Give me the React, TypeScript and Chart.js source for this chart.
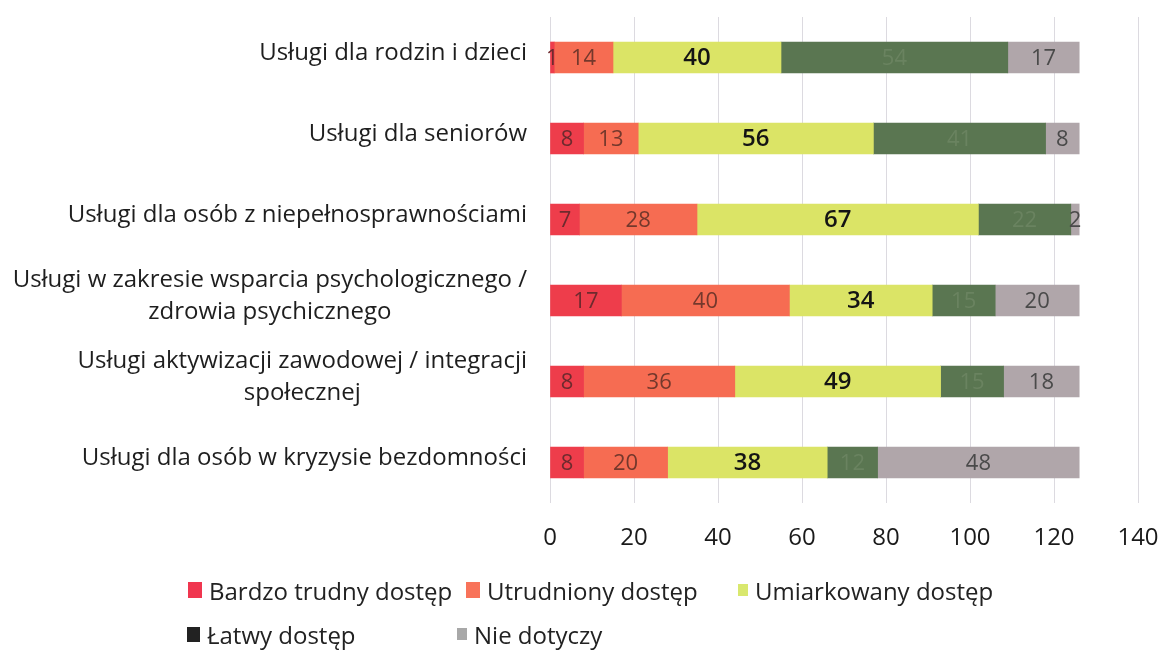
import React, { useEffect, useRef } from "react";
import { Chart, registerables } from "chart.js";

Chart.register(...registerables);

const categories: string[][] = [
  ["Usługi dla rodzin i dzieci"],
  ["Usługi dla seniorów"],
  ["Usługi dla osób z niepełnosprawnościami"],
  ["Usługi w zakresie wsparcia psychologicznego /", "zdrowia psychicznego"],
  ["Usługi aktywizacji zawodowej / integracji", "społecznej"],
  ["Usługi dla osób w kryzysie bezdomności"],
];

const seriesNames = [
  "Bardzo trudny dostęp",
  "Utrudniony dostęp",
  "Umiarkowany dostęp",
  "Łatwy dostęp",
  "Nie dotyczy",
];

const bardzoTrudny = [1, 8, 7, 17, 8, 8];
const utrudniony = [14, 13, 28, 40, 36, 20];
const umiarkowany = [40, 56, 67, 34, 49, 38];
const latwy = [54, 41, 22, 15, 15, 12];
const nieDotyczy = [17, 8, 2, 20, 18, 48];

const xMin = 0;
const xMax = 140;
const xStep = 20;

const barColors = ["#ee3d4b", "#f66c52", "#dbe466", "#5a7651", "#b0a6aa"];
const labelColors = ["#6e2a2e", "#74382c", "#141414", "#6a8360", "#4a4a4a"];
const labelFonts = [
  "400 22px 'Open Sans'",
  "400 22px 'Open Sans'",
  "600 24px 'Open Sans'",
  "400 22px 'Open Sans'",
  "400 22px 'Open Sans'",
];
const legendSwatch = ["#f0364f", "#f8735a", "#d9e86e", "#222222", "#a8a8a8"];

// legend layout (pixels): item left, row top, swatch size
const legendLayout = [
  { x: 188, y: 574, sw: 14, sh: 16 },
  { x: 466, y: 574, sw: 14, sh: 16 },
  { x: 738, y: 574, sw: 10, sh: 12 },
  { x: 187, y: 618, sw: 13, sh: 15 },
  { x: 457, y: 618, sw: 10, sh: 12 },
];

const yLabelsPlugin = {
  id: "yLabels",
  afterDraw(chart: any) {
    const ctx = chart.ctx;
    const ys = chart.scales.y;
    const right = 527;
    ctx.save();
    ctx.font = "500 24px 'Open Sans'";
    ctx.fillStyle = "#1e1e1e";
    ctx.textBaseline = "middle";
    categories.forEach((lines, i) => {
      const y = ys.getPixelForValue(i);
      if (lines.length === 1) {
        ctx.textAlign = "right";
        ctx.fillText(lines[0], right, y - 4);
      } else {
        const w1 = ctx.measureText(lines[0]).width;
        ctx.textAlign = "right";
        ctx.fillText(lines[0], right, y - 20);
        ctx.textAlign = "center";
        ctx.fillText(lines[1], right - w1 / 2, y + 12);
      }
    });
    ctx.restore();
  },
};

const valueLabelsPlugin = {
  id: "valueLabels",
  afterDatasetsDraw(chart: any) {
    const ctx = chart.ctx;
    ctx.save();
    ctx.textAlign = "center";
    ctx.textBaseline = "middle";
    chart.data.datasets.forEach((ds: any, di: number) => {
      const meta = chart.getDatasetMeta(di);
      meta.data.forEach((bar: any, i: number) => {
        const v = ds.data[i];
        const cx = (bar.x + bar.base) / 2;
        ctx.font = labelFonts[di];
        ctx.fillStyle = labelColors[di];
        ctx.fillText(String(v), cx, bar.y + 1);
      });
    });
    ctx.restore();
  },
};

export default function App() {
  const canvasRef = useRef<HTMLCanvasElement | null>(null);

  useEffect(() => {
    document.body.style.margin = "0";
    const canvas = canvasRef.current;
    if (!canvas) return;
    const values = [bardzoTrudny, utrudniony, umiarkowany, latwy, nieDotyczy];
    const chart = new Chart(canvas, {
      type: "bar",
      data: {
        labels: categories.map((c) => c.join(" ")),
        datasets: seriesNames.map((name, i) => ({
          label: name,
          data: values[i],
          backgroundColor: barColors[i],
          borderWidth: 0,
          barThickness: 31,
        })),
      },
      options: {
        indexAxis: "y",
        responsive: false,
        animation: false,
        devicePixelRatio: 1,
        layout: { padding: { top: 17, right: 0, left: 0, bottom: 0 } },
        plugins: {
          legend: { display: false },
          tooltip: { enabled: false },
        },
        scales: {
          x: {
            stacked: true,
            min: xMin,
            max: xMax,
            ticks: {
              stepSize: xStep,
              padding: 21,
              color: "#1a1a1a",
              font: { family: "'Open Sans'", size: 24, weight: "500" },
            },
            grid: { color: "#dcdae0", drawTicks: false, lineWidth: 1 },
            border: { display: false },
            afterFit: (s: any) => {
              s.height = 147;
              s.paddingRight = 22;
              s.paddingLeft = 0;
            },
          },
          y: {
            stacked: true,
            ticks: { display: false },
            grid: { display: false, drawTicks: false },
            border: { display: false },
            afterFit: (s: any) => {
              s.width = 550;
            },
          },
        },
      },
      plugins: [yLabelsPlugin, valueLabelsPlugin],
    } as any);
    return () => chart.destroy();
  }, []);

  return (
    <div style={{ position: "relative", width: 1160, height: 650, background: "#fff" }}>
      <canvas ref={canvasRef} width={1160} height={650} style={{ display: "block" }} />
      {seriesNames.map((name, i) => {
        const L = legendLayout[i];
        return (
          <div
            key={name}
            style={{
              position: "absolute",
              left: L.x,
              top: L.y,
              height: 32,
              display: "flex",
              alignItems: "center",
              fontFamily: "'Open Sans'",
              fontWeight: 500,
              fontSize: 24,
              color: "#222",
              whiteSpace: "nowrap",
            }}
          >
            <span
              style={{
                display: "inline-block",
                width: L.sw,
                height: L.sh,
                background: legendSwatch[i],
                marginRight: 7,
              }}
            />
            {name}
          </div>
        );
      })}
    </div>
  );
}
